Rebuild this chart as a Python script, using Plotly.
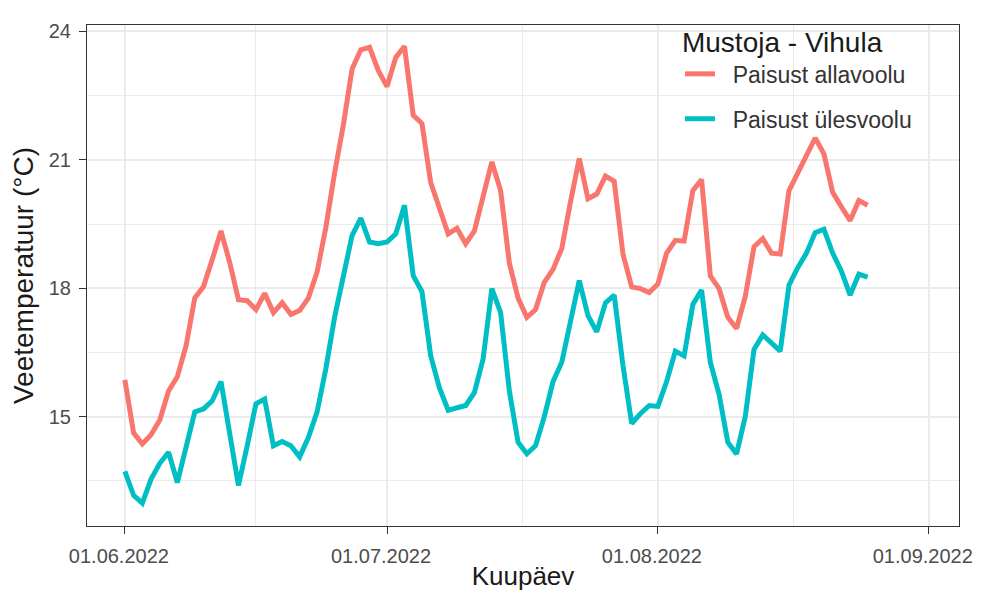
import plotly.graph_objects as go
import pandas as pd

# daily mean water temperature, 01.06.2022 - 25.08.2022
allavoolu = [15.86, 14.62, 14.36, 14.58, 14.92, 15.60, 15.93, 16.65, 17.77, 18.04,
             18.67, 19.34, 18.60, 17.73, 17.71, 17.50, 17.88, 17.43, 17.66, 17.39,
             17.48, 17.77, 18.38, 19.42, 20.69, 21.81, 23.12, 23.57, 23.63, 23.09,
             22.71, 23.39, 23.65, 22.04, 21.85, 20.47, 19.87, 19.27, 19.40, 19.04,
             19.34, 20.09, 20.95, 20.28, 18.59, 17.77, 17.32, 17.50, 18.14, 18.44,
             18.93, 20.02, 21.03, 20.09, 20.20, 20.62, 20.50, 18.80, 18.03, 17.99,
             17.90, 18.10, 18.82, 19.12, 19.10, 20.28, 20.54, 18.29, 17.99, 17.32,
             17.06, 17.81, 18.97, 19.16, 18.82, 18.80, 20.28, 20.69, 21.10, 21.51,
             21.14, 20.24, 19.90, 19.58, 20.05, 19.94]
ulesvoolu = [13.72, 13.16, 12.98, 13.54, 13.91, 14.17, 13.46, 14.25, 15.11, 15.18,
             15.37, 15.82, 14.62, 13.39, 14.32, 15.30, 15.41, 14.32, 14.42, 14.32,
             14.06, 14.51, 15.11, 16.12, 17.32, 18.22, 19.23, 19.64, 19.08, 19.04,
             19.08, 19.27, 19.94, 18.29, 17.92, 16.42, 15.67, 15.15, 15.20, 15.26,
             15.56, 16.35, 17.99, 17.43, 15.60, 14.40, 14.13, 14.32, 15.00, 15.82,
             16.27, 17.17, 18.18, 17.36, 16.98, 17.66, 17.84, 16.20, 14.84, 15.07,
             15.26, 15.24, 15.82, 16.53, 16.42, 17.62, 17.96, 16.27, 15.52, 14.40,
             14.13, 15.00, 16.57, 16.91, 16.72, 16.53, 18.07, 18.48, 18.82, 19.30,
             19.38, 18.82, 18.40, 17.84, 18.33, 18.26]
kuupaev = pd.date_range("2022-06-01", periods=len(allavoolu), freq="D")

x_ticks = ["2022-06-01", "2022-07-01", "2022-08-01", "2022-09-01"]
x_minor = ["2022-06-16", "2022-07-16 12:00", "2022-08-16 12:00"]
y_ticks = [15, 18, 21, 24]
y_minor = [13.5, 16.5, 19.5, 22.5]

FONT = "Liberation Sans, Arial, sans-serif"
NB = "\u00a0\u00a0"

fig = go.Figure()
fig.add_trace(go.Scatter(x=kuupaev, y=allavoolu, mode="lines", name=NB + "Paisust allavoolu",
                         legendgroup="a", line=dict(color="#F8766D", width=5)))
fig.add_trace(go.Scatter(x=kuupaev, y=ulesvoolu, mode="lines", name=NB + "Paisust ülesvoolu",
                         legendgroup="b", line=dict(color="#00BFC4", width=5)))

axis_common = dict(
    showline=True, mirror=True, linecolor="#333333", linewidth=1,
    ticks="outside", ticklen=7, tickcolor="#333333", tickwidth=1.2,
    showgrid=True, gridcolor="#EBEBEB", gridwidth=1.6,
    zeroline=False, tickfont=dict(size=20, color="#4D4D4D", family=FONT),
)

fig.update_xaxes(
    **axis_common,
    type="date", range=["2022-05-27 16:00", "2022-09-04 11:00"],
    tickmode="array", tickvals=x_ticks,
    ticktext=[pd.Timestamp(d).strftime("%d.%m.%Y") for d in x_ticks],
    ticklabelshift=-6, ticklabelstandoff=5,
    minor=dict(tickmode="array", tickvals=x_minor, showgrid=True,
               gridcolor="#EBEBEB", gridwidth=1, ticks=""),
    title=dict(text="Kuupäev", font=dict(size=26, color="#1A1A1A", family=FONT), standoff=0),
)
fig.update_yaxes(
    **axis_common,
    range=[12.445, 24.15],
    tickmode="array", tickvals=y_ticks,
    minor=dict(tickmode="array", tickvals=y_minor, showgrid=True,
               gridcolor="#EBEBEB", gridwidth=1, ticks=""),
    ticklabelstandoff=4,
    title=dict(text="Veetemperatuur (°C)", font=dict(size=28, color="#1A1A1A", family=FONT), standoff=10),
)

# page body keeps its 8px margin, so figure = window - 16
fig.update_layout(
    width=973, height=585,
    margin=dict(l=79, r=16, t=8, b=56),
    plot_bgcolor="white", paper_bgcolor="white",
    font=dict(family=FONT),
    showlegend=True,
    legend=dict(
        x=0.680, y=1.018, xanchor="left", yanchor="top",
        bgcolor="rgba(0,0,0,0)", tracegroupgap=12,
        title=dict(text="Mustoja - Vihula", font=dict(size=28, color="#1A1A1A", family=FONT)),
        font=dict(size=23, color="#333333", family=FONT),
    ),
)

fig.write_html("out.html", config={"displayModeBar": False})
